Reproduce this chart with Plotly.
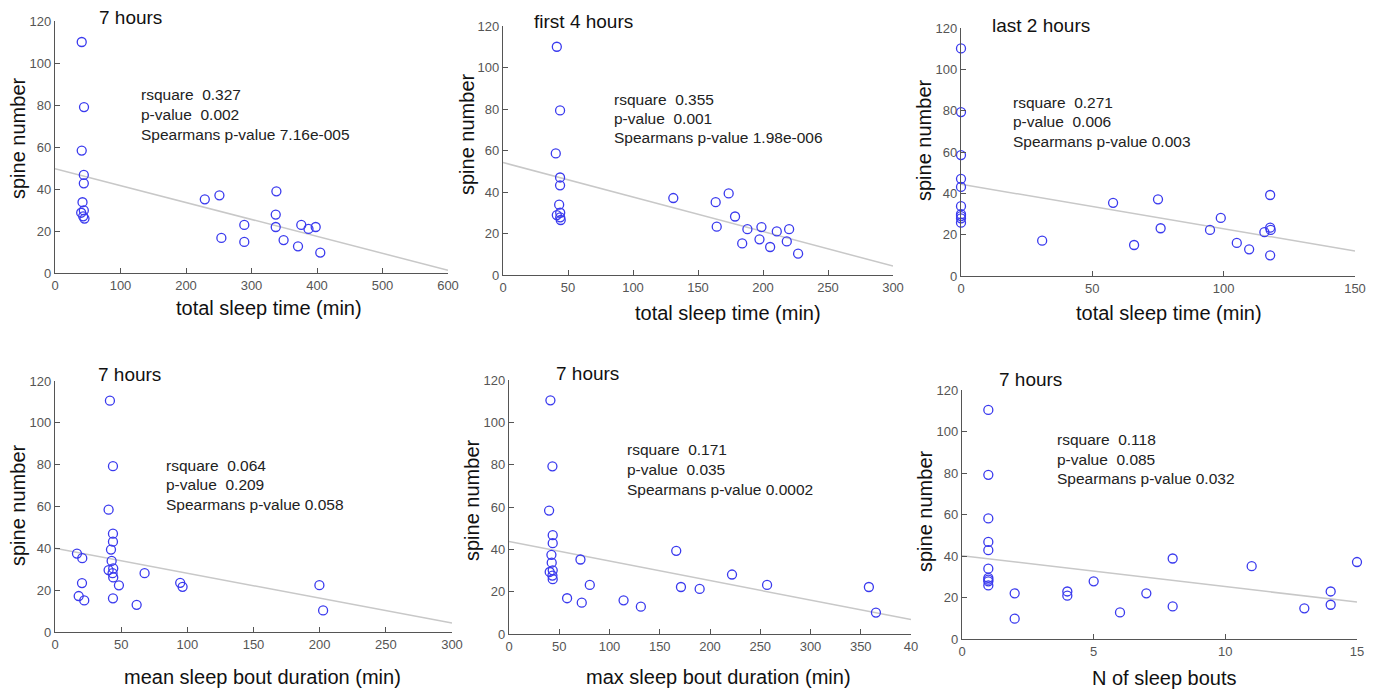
import plotly.graph_objects as go

W, H = 1377, 690

# ---------------- data ----------------
p1_x = [40.8, 44.3, 40.8, 44, 44, 42, 44, 40, 43, 45,
        228.7, 251, 254, 289, 289, 338, 337, 337, 349, 371, 376, 387, 398, 405]
p1_y = [110, 79, 58.3, 46.7, 42.7, 33.7, 29.8, 28.7, 27, 25.9,
        35.1, 37, 16.7, 22.9, 14.8, 38.9, 27.8, 21.9, 15.7, 12.7, 22.9, 21, 21.9, 9.7]

p2_x = [41.4, 43.9, 40.6, 43.9, 43.9, 43.2, 44, 41.4, 44, 44.4,
        131, 163.6, 173.6, 164.4, 178.5, 184, 188, 198.8, 197.3, 205.5, 210.6, 220.1, 218.3, 227]
p2_y = [110, 79.3, 58.6, 47, 43.2, 33.9, 30, 28.9, 27.8, 26.5,
        37.1, 35.1, 39.3, 23.3, 28.2, 15.2, 22.1, 23.1, 17.2, 13.5, 21, 22.1, 16.2, 10.3]

p3_x = [0, 0, 0, 0, 0, 0, 0, 0, 0, 0,
        30.9, 57.9, 65.9, 75, 76, 94.8, 98.9, 105, 109.7, 115.5, 117.7, 117.7, 117.9, 117.7]
p3_y = [110.1, 79.3, 58.5, 47, 43.1, 33.8, 29.9, 29, 27.9, 25.8,
        17.1, 35.4, 15, 37.1, 23.1, 22.3, 28.1, 16, 12.9, 21.2, 39.2, 23.4, 22.3, 10]

p4_x = [41.5, 43.8, 40.5, 43.8, 43.8, 42.3, 42.8, 40.5, 44, 43.5, 44, 48.3, 43.8,
        16.6, 20.6, 20.4, 17.9, 22.1, 61.7, 67.7, 94.6, 96.4, 199.8, 202.6]
p4_y = [110.6, 79.3, 58.5, 47, 43.2, 39.4, 34, 29.6, 30.4, 28.1, 26.1, 22.3, 16.1,
        37.5, 35.3, 23.4, 17.2, 15.1, 13, 28.1, 23.5, 21.6, 22.4, 10.3]

p5_x = [41.2, 43.2, 39.9, 43.5, 43.5, 42.2, 42.5, 40.5, 43.5, 43.2, 43.5,
        71.1, 57.8, 72.4, 80.4, 114, 131.2, 166.4, 171.1, 189.7, 221.9, 256.8, 358.1, 365.1]
p5_y = [110.4, 79.2, 58.3, 46.7, 42.9, 37.4, 33.7, 29.3, 30.1, 27.6, 25.9,
        35.2, 16.9, 14.8, 23.2, 15.9, 12.9, 39.3, 22.2, 21.3, 28.1, 23.2, 22.2, 10.1]

p6_x = [1, 1, 1, 1, 1, 1, 1, 1, 1, 1,
        2, 2, 4, 4, 5, 6, 7, 8, 8, 11, 13, 14, 14, 15]
p6_y = [110.4, 79.1, 58.1, 46.8, 42.8, 33.9, 29.5, 28.6, 27.8, 25.8,
        22, 9.8, 22.9, 20.9, 27.8, 12.8, 22, 38.8, 15.7, 35.1, 14.8, 22.9, 16.5, 37.1]

# fitted regression line end points (x start/end, y start/end)
fit_x = [[0, 600], [0, 300], [0, 150], [0, 300], [0, 400], [0, 15]]
fit_y = [[49.7, 1.3], [54.2, 4.3], [44.4, 12.1], [40.0, 4.3], [43.7, 6.8], [40.1, 17.8]]

panel_titles = ["7 hours", "first 4 hours", "last 2 hours", "7 hours", "7 hours", "7 hours"]
x_titles = ["total sleep time (min)", "total sleep time (min)", "total sleep time (min)",
            "mean sleep bout duration (min)", "max sleep bout duration (min)", "N of sleep bouts"]
y_title = "spine number"

rsq_vals = ["0.327", "0.355", "0.271", "0.064", "0.171", "0.118"]
p_vals = ["0.002", "0.001", "0.006", "0.209", "0.035", "0.085"]
spear_vals = ["7.16e-005", "1.98e-006", "0.003", "0.058", "0.0002", "0.032"]

x_tickvals = [[0, 100, 200, 300, 400, 500, 600],
              [0, 50, 100, 150, 200, 250, 300],
              [0, 50, 100, 150],
              [0, 50, 100, 150, 200, 250, 300],
              [0, 50, 100, 150, 200, 250, 300, 350, 400],
              [0, 5, 10, 15]]
x_ticktext = [[str(v) for v in tv] for tv in x_tickvals]
x_ticktext[4][-1] = "40"
y_tickvals = [0, 20, 40, 60, 80, 100, 120]

xs = [p1_x, p2_x, p3_x, p4_x, p5_x, p6_x]
ys = [p1_y, p2_y, p3_y, p4_y, p5_y, p6_y]

# ---------------- layout (pixel geometry) ----------------
# plot areas: (left, right, top, bottom) in pixels
areas = [(55, 448, 21, 273), (503, 893, 26, 275), (961, 1355, 28, 276),
         (55, 452, 381, 632), (509, 911, 380, 634), (962, 1357, 390, 639)]
title_pos = [(97, 17), (532, 22), (990, 25), (96, 374), (554, 373), (997, 379)]
stats_pos = [(139, 95, 19.5), (612, 99, 19.5), (1011, 102, 20), (164, 465, 19.5), (625, 449, 20), (1055, 440, 19.5)]
xtitle_pos = [(269, 308), (728, 313), (1169, 313), (262, 677), (718, 677), (1164, 678)]
ytitle_pos = [(18, 138), (467, 134), (924, 140), (18, 505), (472, 500), (925, 511)]

FONT = "Arial, Liberation Sans, sans-serif"
AXC = "#555555"

fig = go.Figure()
annotations = []

def px(x):
    return x / W

def py(y):
    return 1 - y / H

for i in range(6):
    n = "" if i == 0 else str(i + 1)
    xa, ya = "x" + n, "y" + n
    l, r, t, b = areas[i]
    fig.add_trace(go.Scatter(x=fit_x[i], y=fit_y[i], mode="lines",
                             line=dict(color="#c8c8c8", width=1.5),
                             xaxis=xa, yaxis=ya, showlegend=False, hoverinfo="skip"))
    fig.add_trace(go.Scatter(x=xs[i], y=ys[i], mode="markers",
                             marker=dict(symbol="circle-open", size=9,
                                         color="#3a3aee", line=dict(width=1.3)),
                             cliponaxis=False, xaxis=xa, yaxis=ya, showlegend=False))
    axis_common = dict(showline=True, linecolor=AXC, linewidth=1.2, ticks="inside",
                       ticklen=5, tickcolor=AXC, tickfont=dict(family=FONT, size=13, color=AXC),
                       showgrid=False, zeroline=False, mirror=False, automargin=False)
    fig.update_layout(**{
        ("xaxis" + n): dict(domain=[px(l), px(r)], range=[0, fit_x[i][1]],
                            tickvals=x_tickvals[i], ticktext=x_ticktext[i],
                            anchor=ya, **axis_common),
        ("yaxis" + n): dict(domain=[py(b), py(t)], range=[0, 120], tickvals=y_tickvals,
                            anchor=xa, **axis_common),
    })
    # panel title
    tx, ty = title_pos[i]
    annotations.append(dict(x=px(tx), y=py(ty), xref="paper", yref="paper", xanchor="left",
                            yanchor="middle", showarrow=False, text=panel_titles[i],
                            font=dict(family=FONT, size=19, color="#111111")))
    # stats
    sx, sy, dy = stats_pos[i]
    lines = ["rsquare  " + rsq_vals[i], "p-value  " + p_vals[i],
             "Spearmans p-value " + spear_vals[i]]
    for k, txt in enumerate(lines):
        annotations.append(dict(x=px(sx), y=py(sy + k * dy), xref="paper", yref="paper",
                                xanchor="left", yanchor="middle", showarrow=False, text=txt,
                                font=dict(family=FONT, size=15.5, color="#222222")))
    # axis titles
    ax_, ay_ = xtitle_pos[i]
    annotations.append(dict(x=px(ax_), y=py(ay_), xref="paper", yref="paper", xanchor="center",
                            yanchor="middle", showarrow=False, text=x_titles[i],
                            font=dict(family=FONT, size=20, color="#111111")))
    yx_, yy_ = ytitle_pos[i]
    annotations.append(dict(x=px(yx_), y=py(yy_), xref="paper", yref="paper", xanchor="center",
                            yanchor="middle", showarrow=False, text=y_title, textangle=-90,
                            font=dict(family=FONT, size=20, color="#111111")))

fig.update_layout(width=W, height=H, margin=dict(l=0, r=0, t=0, b=0),
                  paper_bgcolor="white", plot_bgcolor="white", annotations=annotations)

# remove the default page margin so the figure sits at the window's top-left corner
fig.write_html("out.html", config={"displayModeBar": False},
               post_script="document.body.style.margin='0';document.body.style.overflow='hidden';")
